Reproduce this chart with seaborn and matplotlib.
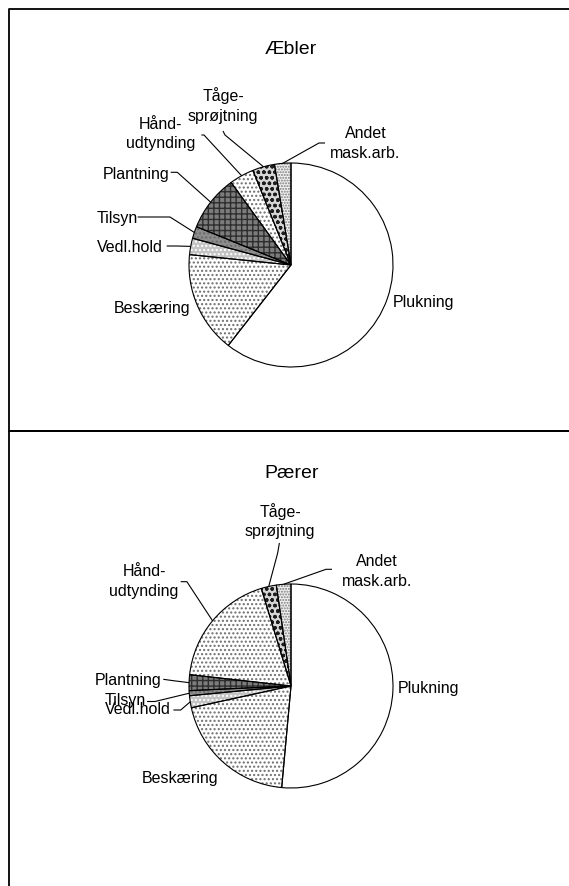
import numpy as np
import matplotlib
matplotlib.use("Agg")
import matplotlib.pyplot as plt
import seaborn as sns
from matplotlib.lines import Line2D

# ---------------- data ----------------
categories = ["Plukning", "Beskæring", "Vedl.hold", "Tilsyn", "Plantning",
              "Hånd-\nudtynding", "Tåge-\nsprøjtning", "Andet\nmask.arb."]
aebler = [60.6, 16.1, 2.6, 1.9, 8.9, 3.9, 3.5, 2.6]
paerer = [51.4, 20.1, 1.9, 0.8, 2.5, 18.5, 2.4, 2.3]
titles = ["Æbler", "Pærer"]

# ---------------- styles ----------------
sns.set_theme(style="white")
plt.rcParams["font.family"] = ["Liberation Sans", "DejaVu Sans"]
plt.rcParams["text.color"] = "black"
plt.rcParams["hatch.linewidth"] = 1.0

# facecolor, hatch colour, hatch pattern
fills = [("#ffffff", None, None),
         ("#ffffff", "#6e6e6e", "...."),
         ("#c4c4c4", "#ffffff", "...."),
         ("#8c8c8c", "#6a6a6a", "...."),
         ("#7c7c7c", "#2e2e2e", "+++"),
         ("#ffffff", "#6e6e6e", "...."),
         ("#d6d6d6", "#1e1e1e", "ooo"),
         ("#f2f2f2", "#7a7a7a", "......")]

W, H = 569, 886
R = 102.0
fig = plt.figure(figsize=(W / 100, H / 100), dpi=100)
fig.patch.set_facecolor("white")

# panel layout in pixels: (top, bottom, pie centre x, pie centre y)
panels = [(0, 431, 291, 265), (431, 886, 291, 686)]

# label positions (pixel) per panel
label_pos = [
    [(423, 303), (152, 309), (130, 248), (117, 218), (136, 174),
     (160.5, 134), (223, 105.5), (365.5, 143.5)],
    [(428, 689), (180, 778), (138, 709), (125, 701), (128, 680),
     (144, 581.5), (280, 521), (377, 571.5)],
]
# leader line anchors near labels (pixel); None = no leader
leaders = [
    [None, None, [(166.7, 246), (176.7, 246)], [(137.7, 217), (170, 217)],
     [(170.7, 172.3), (177.3, 172.3)], [(201.4, 135), (204, 135)],
     [(223, 131), (225, 135)], [(325, 143), (319, 143)]],
    [None, None, [(173.4, 710), (180.7, 710)], [(147, 701.5), (155, 701.5)],
     [(163.3, 679.3), (173.4, 680.7)], [(180.7, 581.7), (186.9, 581.7)],
     [(279.4, 543), (277.6, 553.3)], [(332, 569.3), (326, 569.3)]],
]
title_pos = [(291, 49), (292, 473)]

for p, (vals, (top, bot, cx, cy)) in enumerate(zip([aebler, paerer], panels)):
    ax = fig.add_axes([0, (H - bot) / H, 1, (bot - top) / H])

    def to_d(pt):
        return ((pt[0] - cx) / R, (cy - pt[1]) / R)

    # fills
    wedges, _ = ax.pie(vals, startangle=90, counterclock=False,
                       wedgeprops=dict(linewidth=0, edgecolor="none"))
    for w, (fc, hc, ht) in zip(wedges, fills):
        w.set_facecolor(fc)
    # hatches
    hw, _ = ax.pie(vals, startangle=90, counterclock=False,
                   wedgeprops=dict(fill=False, linewidth=0))
    for w, (fc, hc, ht) in zip(hw, fills):
        if ht:
            w.set_edgecolor(hc)
            w.set_hatch(ht)
            w.set_linewidth(0)
        else:
            w.set_visible(False)
    # outlines
    ax.pie(vals, startangle=90, counterclock=False,
           wedgeprops=dict(fill=False, linewidth=0.8, edgecolor="black"))

    ax.set_aspect("auto")
    ax.set_xlim(-cx / R, (W - cx) / R)
    ax.set_ylim((cy - bot) / R, (cy - top) / R)
    ax.axis("off")

    for i, (lab, pos) in enumerate(zip(categories, label_pos[p])):
        x, y = to_d(pos)
        ax.text(x, y, lab, ha="center", va="center", fontsize=11.5,
                linespacing=1.35, color="black")
        if leaders[p][i] is not None:
            w = wedges[i]
            th = np.deg2rad((w.theta1 + w.theta2) / 2)
            pts = [to_d(q) for q in leaders[p][i]] + [(np.cos(th), np.sin(th))]
            xs, ys = zip(*pts)
            ax.plot(xs, ys, color="black", lw=0.8, solid_capstyle="butt")

    tx, ty = to_d(title_pos[p])
    ax.text(tx, ty, titles[p], ha="center", va="center", fontsize=14,
            color="black")

# panel frames (cropped on right/bottom like the reference)
def fpx(x, y):
    return x / W, 1 - y / H

for (x0, y0, x1, y1) in [(8.7, 9, 580, 431), (8.7, 431, 580, 900)]:
    xs = [x1, x0, x0, x1]
    ys = [y0, y0, y1, y1]
    pts = [fpx(a, b) for a, b in zip(xs, ys)]
    fig.add_artist(Line2D([q[0] for q in pts], [q[1] for q in pts],
                          transform=fig.transFigure, color="black", lw=1.3))

fig.savefig("out.png", dpi=100)
